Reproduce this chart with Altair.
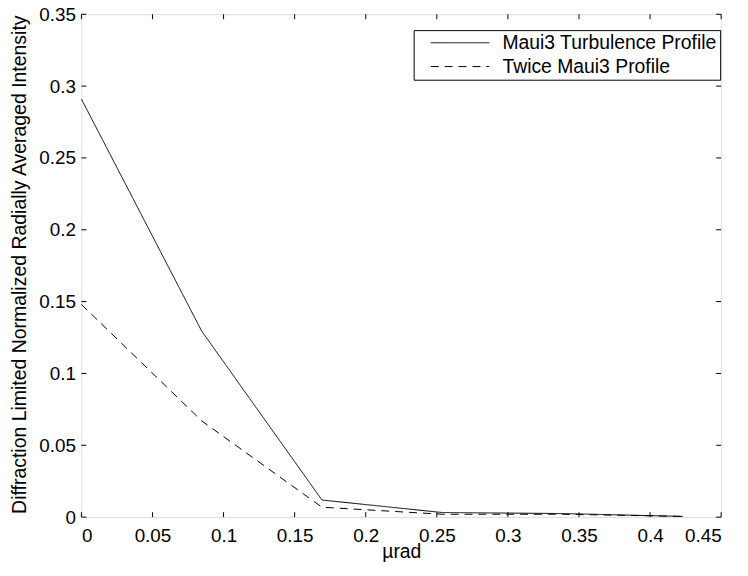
import altair as alt
import pandas as pd

x_vals = [0.0, 0.0846, 0.1692, 0.2538, 0.3384, 0.4230]
solid_vals = [0.291, 0.1295, 0.0119, 0.0032, 0.0025, 0.0005]
dashed_vals = [0.148, 0.067, 0.0069, 0.0020, 0.0020, 0.0005]
series_names = ["Maui3 Turbulence Profile", "Twice Maui3 Profile"]
x_ticks = [0, 0.05, 0.1, 0.15, 0.2, 0.25, 0.3, 0.35, 0.4, 0.45]
y_ticks = [0, 0.05, 0.1, 0.15, 0.2, 0.25, 0.3, 0.35]

W, H = 645, 507
FONT = "Liberation Sans"
LBL = "datum.value == 0 ? '0' : format(datum.value, '.2~f')"

rows = []
for xv, a, b in zip(x_vals, solid_vals, dashed_vals):
    rows.append({"x": xv, "y": a, "s": series_names[0]})
    rows.append({"x": xv, "y": b, "s": series_names[1]})
df = pd.DataFrame(rows)

xs = alt.Scale(domain=[0, 0.45], nice=False)
ys = alt.Scale(domain=[0, 0.35], nice=False)

lines = alt.Chart(df).mark_line(color="black", strokeWidth=1).encode(
    x=alt.X("x:Q", scale=xs, title="µrad",
            axis=alt.Axis(values=x_ticks, ticks=False, grid=False, domain=False,
                          labelFont=FONT, labelFontSize=19, labelColor="black",
                          labelPadding=10, labelExpr=LBL,
                          titleFont=FONT, titleFontSize=19.5, titleFontWeight="normal",
                          titleColor="black", titleY=41, titleBaseline="alphabetic")),
    y=alt.Y("y:Q", scale=ys, title="Diffraction Limited Normalized Radially Averaged Intensity",
            axis=alt.Axis(values=y_ticks, ticks=False, grid=False, domain=False,
                          labelFont=FONT, labelFontSize=19, labelColor="black",
                          labelPadding=6, labelExpr=LBL,
                          titleFont=FONT, titleFontSize=19.6, titleFontWeight="normal",
                          titleColor="black", titleX=-56, titleY=252, titleAngle=270,
                          titleBaseline="alphabetic")),
    strokeDash=alt.StrokeDash("s:N", scale=alt.Scale(domain=series_names, range=[[1, 0], [8, 6]]),
                              legend=alt.Legend(title=None, orient="none", legendX=335, legendY=16,
                                                strokeColor="black", fillColor="white",
                                                padding=3, labelFont=FONT, labelFontSize=19.5,
                                                labelColor="black", labelLimit=400,
                                                symbolType="M0.9,0L12.7,0",
                                                symbolSize=100, symbolStrokeWidth=1,
                                                symbolStrokeColor="black", symbolFillColor="transparent",
                                                rowPadding=3, labelOffset=67, cornerRadius=0)),
    order="x:Q",
)

xt = pd.DataFrame({"t": x_ticks})
yt = pd.DataFrame({"t": y_ticks})
bx = alt.Chart(xt).mark_rule(color="black", strokeWidth=1).encode(
    x=alt.X("t:Q", scale=xs), y=alt.value(H), y2=alt.value(H - 5))
tx = alt.Chart(xt).mark_rule(color="black", strokeWidth=1).encode(
    x=alt.X("t:Q", scale=xs), y=alt.value(0), y2=alt.value(5))
ly = alt.Chart(yt).mark_rule(color="black", strokeWidth=1).encode(
    y=alt.Y("t:Q", scale=ys), x=alt.value(0), x2=alt.value(5))
ry = alt.Chart(yt).mark_rule(color="black", strokeWidth=1).encode(
    y=alt.Y("t:Q", scale=ys), x=alt.value(W), x2=alt.value(W - 5))

chart = alt.layer(bx, tx, ly, ry, lines).properties(
    width=W, height=H,
    autosize=alt.AutoSizeParams(type="none"),
    padding={"left": 74, "top": 4, "right": 19, "bottom": 49},
).configure_view(stroke="black", strokeWidth=1).configure(background="white")

chart.save("out.html", embed_options={"renderer": "svg", "actions": False})
